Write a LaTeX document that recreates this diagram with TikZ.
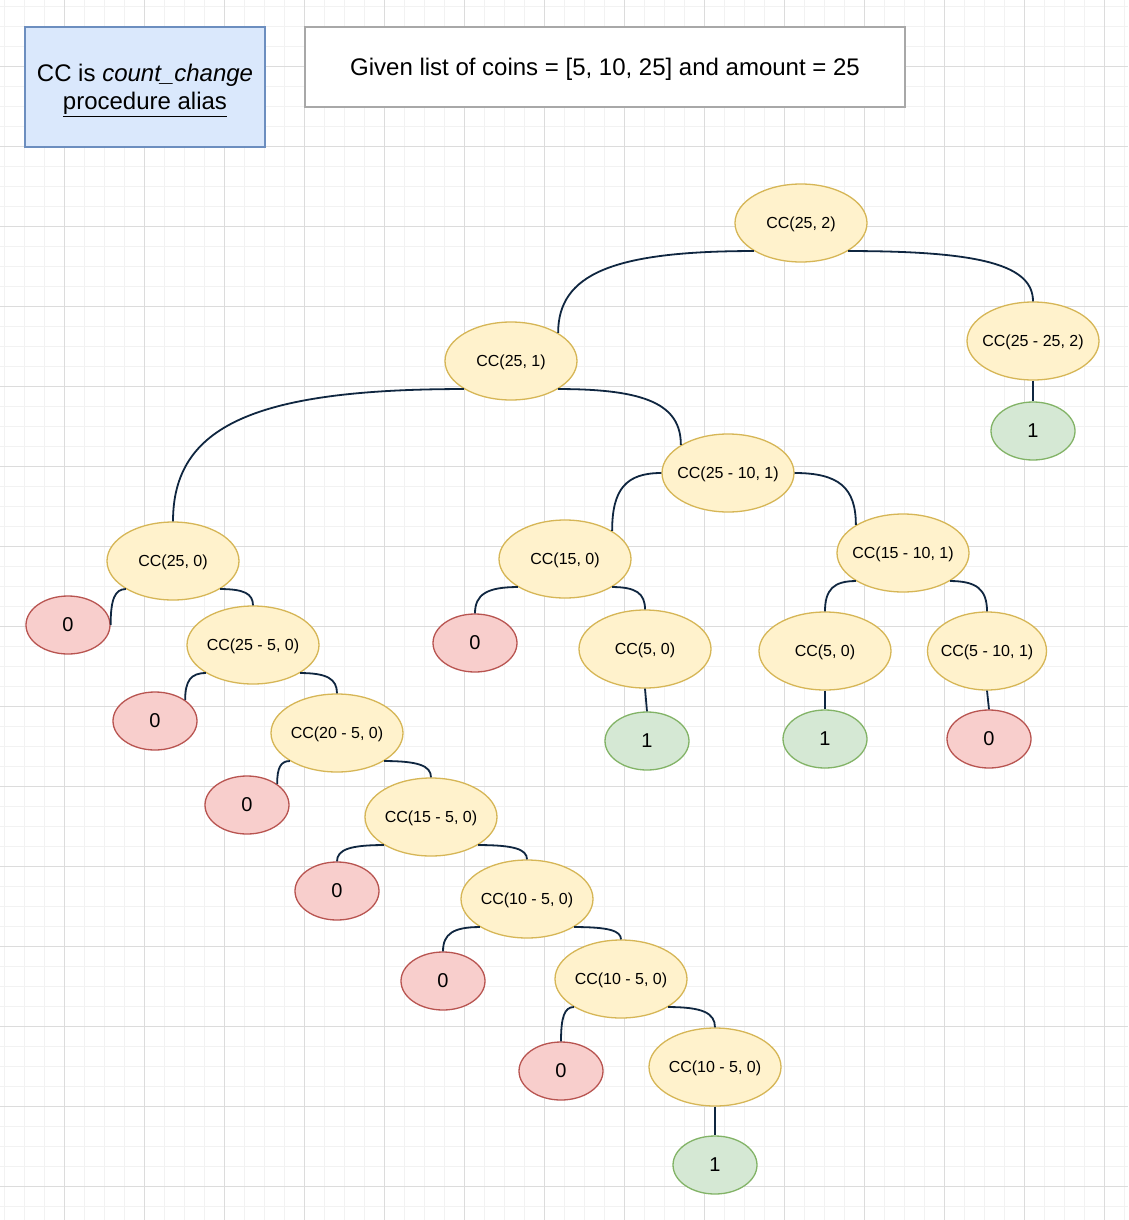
\documentclass[tikz,border=0pt]{standalone}
\usepackage{fontspec}
\setmainfont{Liberation Sans}
\usetikzlibrary{shapes.geometric,calc}

\definecolor{callFill}{HTML}{FFF2CC}
\definecolor{callLine}{HTML}{D6B656}
\definecolor{zeroFill}{HTML}{F8CECC}
\definecolor{zeroLine}{HTML}{B85450}
\definecolor{oneFill}{HTML}{D5E8D4}
\definecolor{oneLine}{HTML}{82B366}
\definecolor{noteFill}{HTML}{DAE8FC}
\definecolor{noteLine}{HTML}{6C8EBF}
\definecolor{titleLine}{HTML}{A8A8A8}
\definecolor{linkCol}{HTML}{0F2640}
\definecolor{gridMinor}{HTML}{F2F2F2}
\definecolor{gridMajor}{HTML}{DCDCDC}

\begin{document}
\begin{tikzpicture}[x=1pt,y=-1pt]
    % -----------------------------
    % Styles
    % -----------------------------
    \def\bendFrac{0.72}   % how far the curve controls sit towards the corner
    \tikzset{
      callnode/.style={ellipse, draw=callLine, fill=callFill, line width=1.3pt,
        minimum width=132pt, minimum height=78pt, inner xsep=-10pt, inner ysep=0pt,
        text height=11pt, text depth=0pt,
        font=\fontsize{16}{18}\selectfont},
      zeroleaf/.style={ellipse, draw=zeroLine, fill=zeroFill, line width=1.3pt,
        minimum width=84pt, minimum height=58pt, inner sep=0pt,
        font=\fontsize{20}{22}\selectfont},
      oneleaf/.style={zeroleaf, draw=oneLine, fill=oneFill},
      notebox/.style={rectangle, draw=noteLine, fill=noteFill, line width=1.3pt,
        minimum width=240pt, minimum height=120pt, align=center,
        font=\fontsize{24}{28}\selectfont},
      titlebox/.style={rectangle, draw=titleLine, fill=white, line width=1.3pt,
        minimum width=600pt, minimum height=80pt,
        text height=21pt, text depth=4pt,
        font=\fontsize{24}{28}\selectfont},
      edgeline/.style={draw=linkCol, line width=1.8pt},
      % horizontal out of the parent, vertical into the child
      curvelink/.style={to path={
        .. controls ($(\tikztostart)!\bendFrac!(\tikztostart -| \tikztotarget)$)
        and ($(\tikztotarget)!\bendFrac!(\tikztostart -| \tikztotarget)$)
        .. (\tikztotarget)}},
      minorline/.style={draw=gridMinor, line width=0.8pt},
      majorline/.style={draw=gridMajor, line width=0.8pt}
    }

    % -----------------------------
    % Page and grid
    % -----------------------------
    \useasboundingbox (0,0) rectangle (1128,1220);
    \fill[white] (0,0) rectangle (1128,1220);
    \foreach \gx in {4,24,...,1124} \draw[minorline] (\gx,0) -- (\gx,1220);
    \foreach \gy in {6,26,...,1206} \draw[minorline] (0,\gy) -- (1128,\gy);
    \foreach \gx in {64,144,...,1104} \draw[majorline] (\gx,0) -- (\gx,1220);
    \foreach \gy in {66,146,...,1186} \draw[majorline] (0,\gy) -- (1128,\gy);

    % -----------------------------
    % Notes at the top
    % -----------------------------
    \node[notebox] (Alias) at (145,87) {\rule{0pt}{24pt}CC is \textit{count\_change}\\\underline{procedure alias}};
    \node[titlebox] (Given) at (605,67) {Given list of coins = [5, 10, 25] and amount = 25};

    % -----------------------------
    % Call tree
    % -----------------------------
    \node[callnode] (Root) at (801,223) {CC(25, 2)};
    \node[callnode] (RootR) at (1033,341) {CC(25 - 25, 2)};
    \node[oneleaf] (RootRLeaf) at (1033,431) {1};

    \node[callnode] (One) at (511,361) {CC(25, 1)};
    \node[callnode] (Ten) at (728,473) {CC(25 - 10, 1)};

    % left chain, coin 5 only
    \node[callnode] (Five) at (173,561) {CC(25, 0)};
    \node[zeroleaf] (FiveZ) at (68,625) {0};
    \node[callnode] (FiveA) at (253,645) {CC(25 - 5, 0)};
    \node[zeroleaf] (FiveAZ) at (155,721) {0};
    \node[callnode] (FiveB) at (337,733) {CC(20 - 5, 0)};
    \node[zeroleaf] (FiveBZ) at (247,805) {0};
    \node[callnode] (FiveC) at (431,817) {CC(15 - 5, 0)};
    \node[zeroleaf] (FiveCZ) at (337,891) {0};
    \node[callnode] (FiveD) at (527,899) {CC(10 - 5, 0)};
    \node[zeroleaf] (FiveDZ) at (443,981) {0};
    \node[callnode] (FiveE) at (621,979) {CC(10 - 5, 0)};
    \node[zeroleaf] (FiveEZ) at (561,1071) {0};
    \node[callnode] (FiveF) at (715,1067) {CC(10 - 5, 0)};
    \node[oneleaf] (FiveFLeaf) at (715,1165) {1};

    % middle and right branches
    \node[callnode] (TenL) at (565,559) {CC(15, 0)};
    \node[zeroleaf] (TenLZ) at (475,643) {0};
    \node[callnode] (TenLR) at (645,649) {CC(5, 0)};
    \node[oneleaf] (TenLRLeaf) at (647,741) {1};
    \node[callnode] (TenR) at (903,553) {CC(15 - 10, 1)};
    \node[callnode] (TenRL) at (825,651) {CC(5, 0)};
    \node[oneleaf] (TenRLLeaf) at (825,739) {1};
    \node[callnode, minimum width=119pt] (TenRR) at (987,651) {CC(5 - 10, 1)};
    \node[zeroleaf] (TenRRZ) at (989,739) {0};

    % -----------------------------
    % Connectors
    % -----------------------------
    \draw[edgeline] (Root.south west) to[curvelink] (One.north east);
    \draw[edgeline] (Root.south east) to[curvelink] (RootR.north);
    \draw[edgeline] (RootR.south) -- (RootRLeaf.north);

    \draw[edgeline] (One.south west) to[curvelink] (Five.north);
    \draw[edgeline] (One.south east) to[curvelink] (Ten.north west);

    \draw[edgeline] (Five.south west) to[curvelink] (FiveZ.east);
    \draw[edgeline] (Five.south east) to[curvelink] (FiveA.north);
    \draw[edgeline] (FiveA.south west) to[curvelink] (FiveAZ.north east);
    \draw[edgeline] (FiveA.south east) to[curvelink] (FiveB.north);
    \draw[edgeline] (FiveB.south west) to[curvelink] (FiveBZ.north east);
    \draw[edgeline] (FiveB.south east) to[curvelink] (FiveC.north);
    \draw[edgeline] (FiveC.south west) to[curvelink] (FiveCZ.north);
    \draw[edgeline] (FiveC.south east) to[curvelink] (FiveD.north);
    \draw[edgeline] (FiveD.south west) to[curvelink] (FiveDZ.north);
    \draw[edgeline] (FiveD.south east) to[curvelink] (FiveE.north);
    \draw[edgeline] (FiveE.south west) to[curvelink] (FiveEZ.north);
    \draw[edgeline] (FiveE.south east) to[curvelink] (FiveF.north);
    \draw[edgeline] (FiveF.south) -- (FiveFLeaf.north);

    \draw[edgeline] (Ten.west) to[curvelink] (TenL.north east);
    \draw[edgeline] (Ten.east) to[curvelink] (TenR.north west);
    \draw[edgeline] (TenL.south west) to[curvelink] (TenLZ.north);
    \draw[edgeline] (TenL.south east) to[curvelink] (TenLR.north);
    \draw[edgeline] (TenLR.south) -- (TenLRLeaf.north);
    \draw[edgeline] (TenR.south west) to[curvelink] (TenRL.north);
    \draw[edgeline] (TenR.south east) to[curvelink] (TenRR.north);
    \draw[edgeline] (TenRL.south) -- (TenRLLeaf.north);
    \draw[edgeline] (TenRR.south) -- (TenRRZ.north);

\end{tikzpicture}
\end{document}
